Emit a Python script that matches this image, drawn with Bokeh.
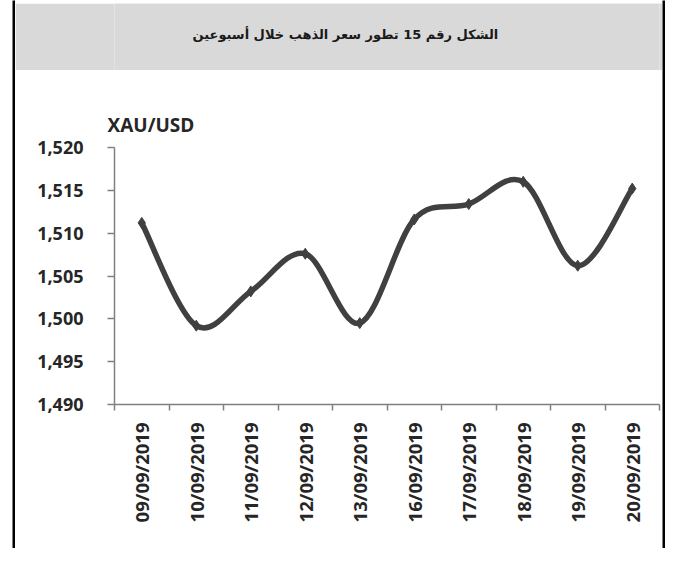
import numpy as np
from bokeh.plotting import figure
from bokeh.models import (Range1d, FixedTicker, NumeralTickFormatter, Label,
                          LinearAxis, Title, Spacer)
from bokeh.layouts import row, column
from bokeh.embed import file_html
from bokeh.resources import INLINE

# ---- data ----
dates = ["09/09/2019", "10/09/2019", "11/09/2019", "12/09/2019", "13/09/2019",
         "16/09/2019", "17/09/2019", "18/09/2019", "19/09/2019", "20/09/2019"]
prices = [1511.2, 1499.2, 1503.2, 1507.6, 1499.5,
          1511.6, 1513.4, 1516.0, 1506.2, 1515.2]
y_ticks = [1490, 1495, 1500, 1505, 1510, 1515, 1520]
title_text = "الشكل رقم 15 تطور سعر الذهب خلال أسبوعين"
unit_text = "XAU/USD"

LINE = "#404040"
TXT = "#262626"
AX = "#808080"
GRAY = "#d9d9d9"
LEFT_GAP = 12
IN_W = 647      # inner width of the boxed chart
HEAD_H = 67
MAIN_H = 478
BW = 3          # border thickness
BOT_BW = 4


def block(w, h, color):
    f = figure(width=w, height=h, output_backend="svg", toolbar_location=None,
               min_border=0, x_axis_type=None, y_axis_type=None,
               x_range=Range1d(0, 1), y_range=Range1d(0, 1))
    f.background_fill_color = color
    f.border_fill_color = color
    f.outline_line_color = None
    f.grid.visible = False
    return f


n = len(dates)
xs = np.arange(n) + 0.5
ys = np.array(prices)

# ---- main chart ----
p = figure(width=IN_W, height=MAIN_H, output_backend="svg", toolbar_location=None,
           x_range=Range1d(0, n), y_range=Range1d(y_ticks[0], y_ticks[-1]),
           min_border_left=99, min_border_right=3, min_border_top=77,
           min_border_bottom=144, x_axis_type=None, y_axis_type=None)
p.outline_line_color = None
p.background_fill_color = "white"
p.border_fill_color = "white"
p.grid.visible = False

p.title = Title(text=unit_text, align="left", offset=-7, standoff=19,
                text_font="Open Sans", text_font_style="bold",
                text_font_size="19px", text_color=TXT)

yax = LinearAxis(ticker=FixedTicker(ticks=y_ticks, minor_ticks=[]),
                 formatter=NumeralTickFormatter(format="0,0"))
yax.axis_line_color = AX
yax.axis_line_width = 1.5
yax.major_tick_line_color = AX
yax.major_tick_line_width = 1.5
yax.major_tick_out = 7
yax.major_tick_in = 0
yax.minor_tick_line_color = None
yax.major_label_standoff = 24
yax.major_label_text_font = "Open Sans"
yax.major_label_text_font_style = "bold"
yax.major_label_text_font_size = "18px"
yax.major_label_text_color = TXT
p.add_layout(yax, "left")

xax = LinearAxis(ticker=FixedTicker(ticks=list(xs), minor_ticks=list(range(n + 1))))
xax.major_label_overrides = {float(x): d for x, d in zip(xs, dates)}
xax.major_label_orientation = np.pi / 2
xax.axis_line_color = AX
xax.axis_line_width = 1.5
xax.major_tick_line_color = None
xax.major_tick_out = 0
xax.major_tick_in = 0
xax.minor_tick_line_color = AX
xax.minor_tick_line_width = 1.5
xax.minor_tick_out = 6
xax.minor_tick_in = 0
xax.major_label_standoff = 12
xax.major_label_text_font = "Open Sans"
xax.major_label_text_font_style = "bold"
xax.major_label_text_font_size = "18.5px"
xax.major_label_text_color = TXT
p.add_layout(xax, "below")

# smoothed line (bezier segments through the data points)
px = np.concatenate([[xs[0]], xs, [xs[-1]]])
py = np.concatenate([[ys[0]], ys, [ys[-1]]])
k = 1.0 / 6.0
x0, y0 = xs[:-1], ys[:-1]
x1, y1 = xs[1:], ys[1:]
cx0 = x0 + (px[2:n + 1] - px[0:n - 1]) * k
cy0 = y0 + (py[2:n + 1] - py[0:n - 1]) * k
cx1 = x1 - (px[3:n + 2] - px[1:n]) * k
cy1 = y1 - (py[3:n + 2] - py[1:n]) * k
p.bezier(x0=x0, y0=y0, x1=x1, y1=y1, cx0=cx0, cy0=cy0, cx1=cx1, cy1=cy1,
         line_color=LINE, line_width=5.5, line_cap="round")
p.scatter(xs, ys, marker="diamond", size=11, color=LINE)

# ---- header ----
head = block(IN_W, HEAD_H, GRAY)
head.add_layout(Label(x=78, y=36, x_units="screen", y_units="screen",
                      text=title_text, text_align="left", text_baseline="middle",
                      text_font="DejaVu Sans", text_font_style="bold",
                      text_font_size="13px", text_color="#1a1a1a"))

upper_h = BW + HEAD_H + MAIN_H
inner = column(block(IN_W, BW, "black"), head, p)
upper = row(Spacer(width=LEFT_GAP, height=upper_h),
            block(BW, upper_h, "black"), inner, block(BW, upper_h, "black"))
lower = row(Spacer(width=LEFT_GAP, height=BOT_BW),
            block(IN_W + 2 * BW, BOT_BW, "black"))
layout = column(upper, lower)

open("out.html", "w").write(file_html(layout, INLINE))
